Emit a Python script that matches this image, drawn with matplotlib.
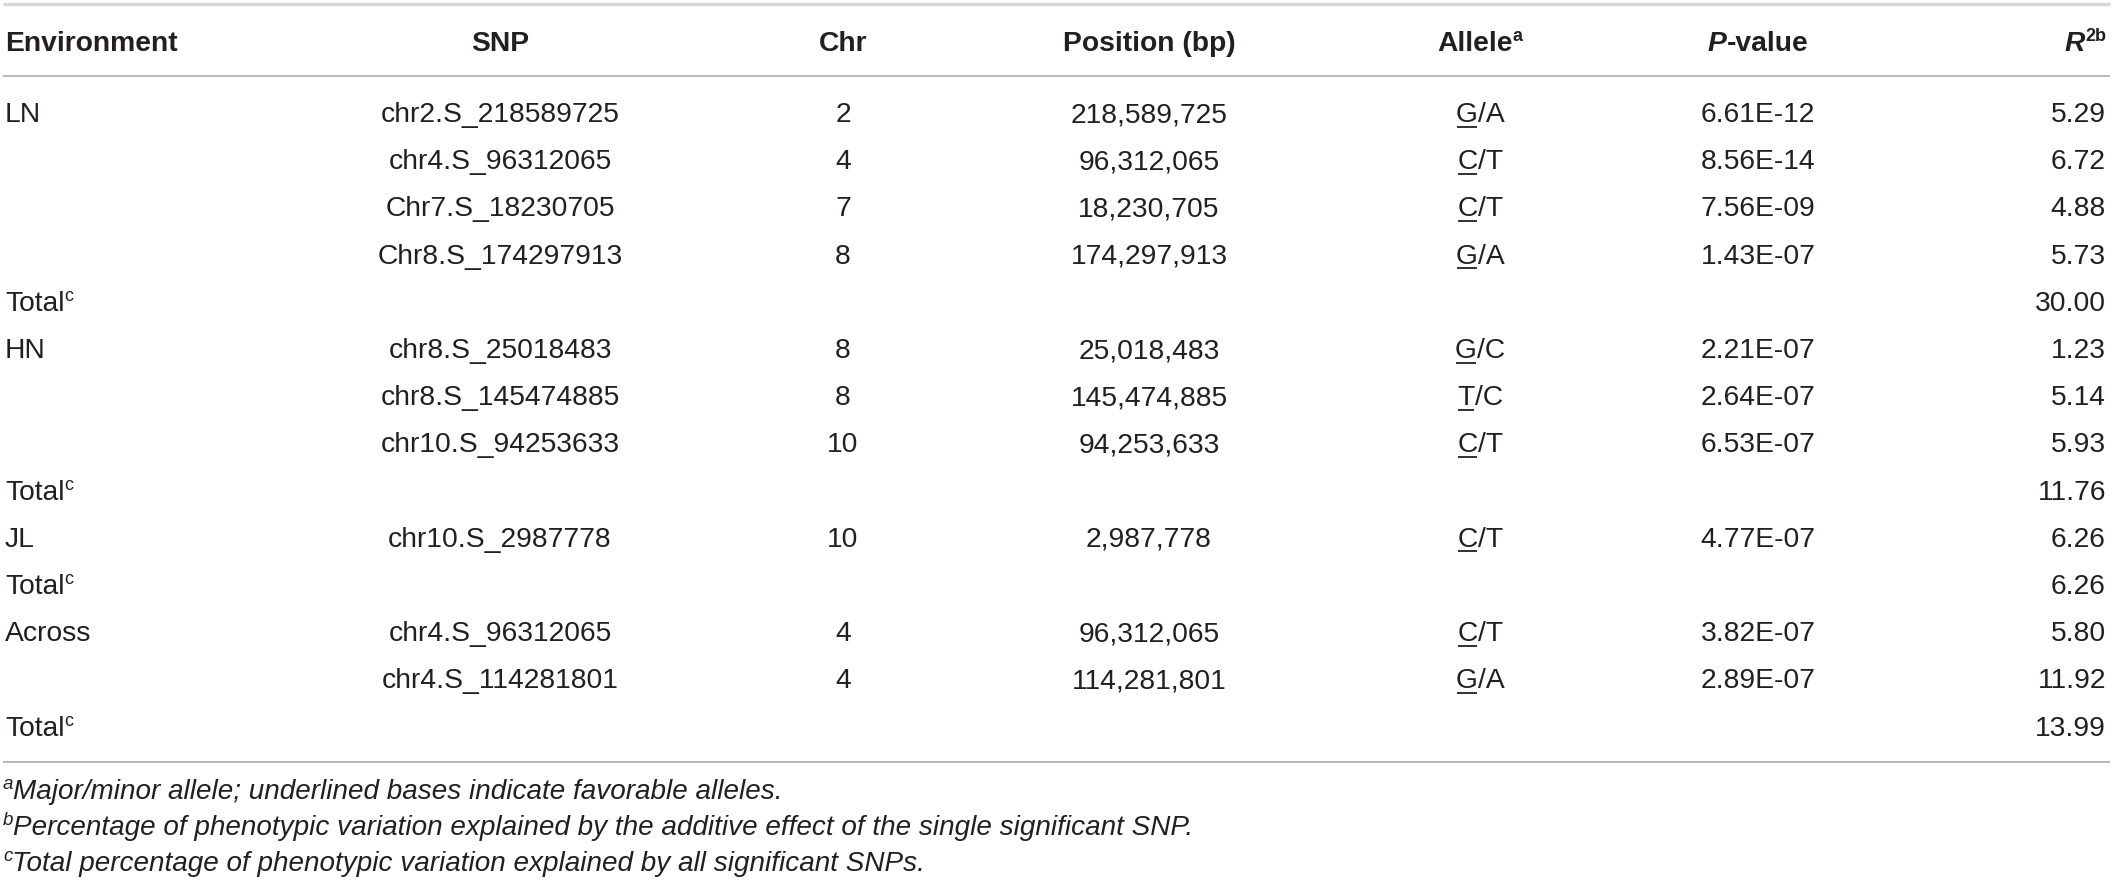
import matplotlib
matplotlib.use("Agg")
import matplotlib.pyplot as plt
from matplotlib.lines import Line2D

# ---------------- data ----------------
headers = ["Environment", "SNP", "Chr", "Position (bp)", "Allele", "P-value", "R"]
environment = ["LN", "", "", "", "Total", "HN", "", "", "Total", "JL", "Total", "Across", "", "Total"]
snp = ["chr2.S_218589725", "chr4.S_96312065", "Chr7.S_18230705", "Chr8.S_174297913", "",
       "chr8.S_25018483", "chr8.S_145474885", "chr10.S_94253633", "",
       "chr10.S_2987778", "", "chr4.S_96312065", "chr4.S_114281801", ""]
chromosome = [2, 4, 7, 8, None, 8, 8, 10, None, 10, None, 4, 4, None]
position = [218589725, 96312065, 18230705, 174297913, None, 25018483, 145474885, 94253633, None,
            2987778, None, 96312065, 114281801, None]
allele = ["G/A", "C/T", "C/T", "G/A", "", "G/C", "T/C", "C/T", "", "C/T", "", "C/T", "G/A", ""]
pvalue = [6.61e-12, 8.56e-14, 7.56e-09, 1.43e-07, None, 2.21e-07, 2.64e-07, 6.53e-07, None,
          4.77e-07, None, 3.82e-07, 2.89e-07, None]
r2 = [5.29, 6.72, 4.88, 5.73, 30.00, 1.23, 5.14, 5.93, 11.76, 6.26, 6.26, 5.80, 11.92, 13.99]
footnotes = [("a", "Major/minor allele; underlined bases indicate favorable alleles."),
             ("b", "Percentage of phenotypic variation explained by the additive effect of the single significant SNP."),
             ("c", "Total percentage of phenotypic variation explained by all significant SNPs.")]

# ---------------- layout ----------------
W, H = 2113, 884
FONT = "Liberation Sans"
TXT = "#231f20"
FS = 20.3        # main text size (pt)
SUP = 13.0       # superscript size
FN = 20.1        # footnote size
FNSUP = 13.5

fig = plt.figure(figsize=(W / 100, H / 100), dpi=100)
fig.patch.set_facecolor("white")
ax = fig.add_axes([0, 0, 1, 1])
ax.set_xlim(0, W)
ax.set_ylim(H, 0)
ax.axis("off")
renderer = fig.canvas.get_renderer()


def text_width(s, **kw):
    t = ax.text(0, 0, s, family=FONT, **kw)
    w = t.get_window_extent(renderer).width
    t.remove()
    return w


def draw_runs(x, y, runs, ha="left"):
    """runs: list of (string, kwargs, raise_px)"""
    widths = [text_width(s, **kw) if s else 0 for s, kw, _ in runs]
    total = sum(widths)
    if ha == "center":
        x0 = x - total / 2
    elif ha == "right":
        x0 = x - total
    else:
        x0 = x
    starts = []
    for (s, kw, dy), w in zip(runs, widths):
        starts.append(x0)
        if s:
            ax.text(x0, y - dy, s, family=FONT, va="baseline", ha="left", color=TXT, **kw)
        x0 += w
    return starts


# column anchors
x_env = 5
x_snp = 500
x_chr = 843
x_pos = 1149
x_all = 1480
x_pv = 1758
x_r2 = 2106

# horizontal rules
ax.add_line(Line2D([3, 2110], [4, 4], color="#d6d6d6", lw=2.4, solid_capstyle="butt"))
ax.add_line(Line2D([3, 2110], [75.5, 75.5], color="#b4b4b4", lw=1.3, solid_capstyle="butt"))
ax.add_line(Line2D([3, 2110], [762, 762], color="#b4b4b4", lw=1.3, solid_capstyle="butt"))

# header
hb = 51
B = dict(size=FS, weight="bold")
BI = dict(size=FS, weight="bold", style="italic")
BS = dict(size=SUP, weight="bold")
draw_runs(x_env, hb, [(headers[0], B, 0)], "left")
draw_runs(x_snp, hb, [(headers[1], B, 0)], "center")
draw_runs(x_chr, hb, [(headers[2], B, 0)], "center")
draw_runs(x_pos, hb, [(headers[3], B, 0)], "center")
draw_runs(x_all, hb, [(headers[4], B, 0), ("a", BS, 10)], "center")
draw_runs(x_pv, hb, [("P", BI, 0), ("-value", B, 0)], "center")
draw_runs(x_r2, hb, [("R", BI, 0), ("2b", BS, 10)], "right")

# body
R = dict(size=FS)
RS = dict(size=SUP)
y0 = 122
dy = 47.2
for i in range(len(r2)):
    y = y0 + i * dy
    env = environment[i]
    if env == "Total":
        draw_runs(x_env, y, [("Total", R, 0), ("c", RS, 10)], "left")
    elif env:
        draw_runs(x_env, y, [(env, R, 0)], "left")
    if snp[i]:
        draw_runs(x_snp, y, [(snp[i], R, 0)], "center")
    if chromosome[i] is not None:
        draw_runs(x_chr, y, [(str(chromosome[i]), R, 0)], "center")
    if position[i] is not None:
        draw_runs(x_pos, y, [(f"{position[i]:,}", R, 0)], "center")
    if allele[i]:
        a = allele[i]
        st = draw_runs(x_all, y, [(a[0], R, 0), (a[1:], R, 0)], "center")
        w0 = text_width(a[0], **R)
        ax.add_line(Line2D([st[0] + 1, st[0] + w0 - 1], [y + 4.5, y + 4.5], color=TXT, lw=1.3,
                           solid_capstyle="butt"))
    if pvalue[i] is not None:
        draw_runs(x_pv, y, [(f"{pvalue[i]:.2E}", R, 0)], "center")
    draw_runs(x_r2, y, [(f"{r2[i]:.2f}", R, 0)], "right")

# footnotes
I = dict(size=FN, style="italic")
IS = dict(size=FNSUP, style="italic")
for k, (lab, txt) in enumerate(footnotes):
    yb = 799 + k * 36
    draw_runs(3, yb, [(lab, IS, 10), (txt, I, 0)], "left")

fig.savefig("out.png", dpi=100, facecolor="white")
